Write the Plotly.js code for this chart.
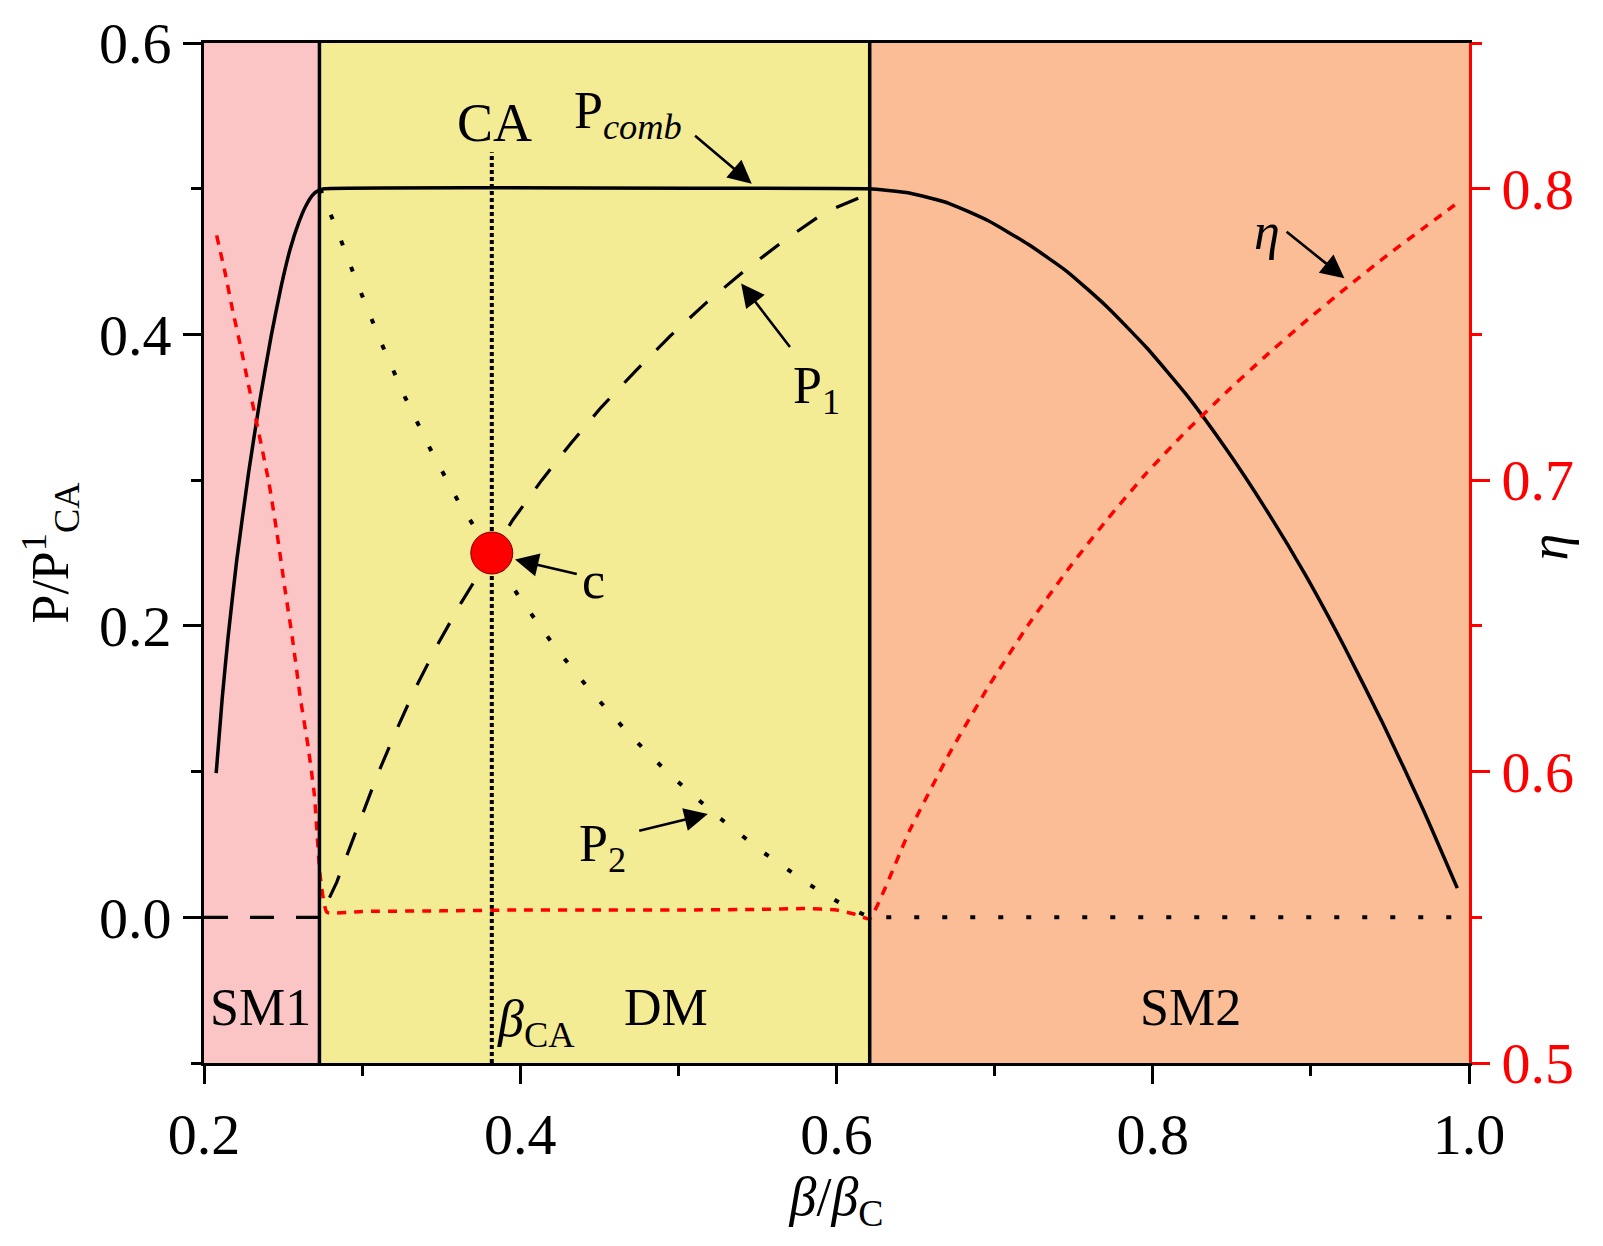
<!DOCTYPE html>
<html>
<head>
<meta charset="utf-8">
<script src="https://cdn.plot.ly/plotly-3.0.1.min.js"></script>
<style>
  html, body { margin: 0; padding: 0; background: #fff; }
  #plot { width: 1603px; height: 1246px; }
</style>
</head>
<body>
<div id="plot"></div>
<script>
"use strict";

// ── Operating regions (β/βC) ──
const regionNames  = ["SM1", "DM", "SM2"];
const regionStart  = [0.2, 0.273, 0.621];
const regionEnd    = [0.273, 0.621, 1.0];
const regionColors = ["#FCC5C5", "#F4EC95", "#FBBD95"];
const regionLabelX = [0.236, 0.492, 0.824];
const regionLabelY = -0.062;

// ── Combined power P_comb / P¹_CA (solid) ──
const combX = [0.2077, 0.2115, 0.2152, 0.2207, 0.2282, 0.2352, 0.2425, 0.2486, 0.2546,
               0.2600, 0.2643, 0.2690, 0.2728, 0.276,
               0.618, 0.621, 0.646, 0.671, 0.696, 0.721, 0.746, 0.771, 0.796, 0.821, 0.846,
               0.871, 0.896, 0.921, 0.946, 0.971, 0.9926];
const combY = [0.099, 0.150, 0.192, 0.245, 0.305, 0.354, 0.399, 0.432, 0.459,
               0.477, 0.488, 0.496, 0.499, 0.500,
               0.500, 0.500, 0.497, 0.490, 0.478, 0.462, 0.443, 0.419, 0.391, 0.359, 0.322,
               0.281, 0.236, 0.186, 0.132, 0.074, 0.020];

// ── P1 (dashed) ──
const p1X = [0.2, 0.2735, 0.2839, 0.2972, 0.3094, 0.3215, 0.3336, 0.3482, 0.3627, 0.382,
             0.3955, 0.4136, 0.4318, 0.4512, 0.473, 0.4949, 0.5179, 0.5421, 0.5676, 0.593, 0.617];
const p1Y = [0.0, 0.0, 0.024, 0.062, 0.097, 0.128, 0.157, 0.188, 0.216, 0.250,
             0.273, 0.300, 0.325, 0.350, 0.375, 0.399, 0.422, 0.444, 0.465, 0.484, 0.495];

// ── P2 (dotted) ──
const p2X = [0.2735, 0.2851, 0.298, 0.3118, 0.3271, 0.3433, 0.361, 0.382, 0.3998, 0.4216,
             0.4447, 0.4694, 0.4954, 0.524, 0.5531, 0.5834, 0.605, 0.621, 0.995];
const p2Y = [0.500, 0.469, 0.432, 0.395, 0.357, 0.321, 0.285, 0.249, 0.219, 0.186,
             0.155, 0.125, 0.097, 0.070, 0.045, 0.022, 0.008, 0.0, 0.0];

// ── Efficiency η (red, right axis) ──
const etaX = [0.208, 0.2134, 0.2182, 0.2231, 0.228, 0.2328, 0.2411, 0.2461, 0.2511, 0.2561,
              0.261, 0.266, 0.2698, 0.2735, 0.2778,
              0.30, 0.35, 0.40, 0.45, 0.50, 0.55, 0.58, 0.60, 0.612, 0.621,
              0.646, 0.671, 0.696, 0.721, 0.746, 0.771, 0.796, 0.821, 0.846,
              0.871, 0.896, 0.921, 0.946, 0.971, 0.991];
const etaY = [0.784, 0.771, 0.758, 0.746, 0.733, 0.721, 0.699, 0.682, 0.663, 0.645,
              0.625, 0.608, 0.592, 0.564, 0.5517,
              0.552, 0.5522, 0.5525, 0.5525, 0.5525, 0.5527, 0.553, 0.5525, 0.551, 0.5495,
              0.5795, 0.6058, 0.6291, 0.6501, 0.6691, 0.6864, 0.7024, 0.7167, 0.7299,
              0.7424, 0.7542, 0.7654, 0.7762, 0.7864, 0.7944];

// ── Characteristic point c and β_CA ──
const betaCA = 0.382;
const caLineY = [-0.1, 0.525];
const pointC = { x: 0.382, y: 0.25 };

// ── Axis ticks ──
const xTickVals = [0.2, 0.4, 0.6, 0.8, 1.0];
const xTickText = ["0.2", "0.4", "0.6", "0.8", "1.0"];
const xMinor    = [0.3, 0.5, 0.7, 0.9];
const yTickVals = [0.0, 0.2, 0.4, 0.6];
const yTickText = ["0.0", "0.2", "0.4", "0.6"];
const yMinor    = [-0.1, 0.1, 0.3, 0.5];
const y2TickVals = [0.5, 0.6, 0.7, 0.8];
const y2TickText = ["0.5", "0.6", "0.7", "0.8"];
const y2Minor    = [0.55, 0.65, 0.75, 0.85];

const FONT = "Liberation Serif, Times New Roman, DejaVu Serif, serif";
const RED = "#FF0000";

const traces = [];

// CA vertical dotted line (behind the red dot)
traces.push({
    type: "scatter", mode: "lines",
    x: [betaCA, betaCA], y: caLineY,
    line: { color: "#000", width: 4, dash: "4px,3px" },
    hoverinfo: "skip", showlegend: false,
});
traces.push({
    type: "scatter", mode: "lines", name: "P2",
    x: p2X, y: p2Y,
    line: { color: "#000", width: 4, dash: "5px,23px" },
    showlegend: false,
});
traces.push({
    type: "scatter", mode: "lines", name: "P1",
    x: p1X, y: p1Y,
    line: { color: "#000", width: 3.2, dash: "24px,22px" },
    showlegend: false,
});
traces.push({
    type: "scatter", mode: "lines", name: "Pcomb",
    x: combX, y: combY,
    line: { color: "#000", width: 3.5, shape: "spline", smoothing: 0.5 },
    showlegend: false,
});
traces.push({
    type: "scatter", mode: "markers", name: "c",
    x: [pointC.x], y: [pointC.y],
    marker: { size: 42, color: RED, line: { color: "#7a0000", width: 1 } },
    showlegend: false,
});
traces.push({
    type: "scatter", mode: "lines", name: "η",
    x: etaX, y: etaY, yaxis: "y2",
    line: { color: RED, width: 3.5, dash: "9px,8px", shape: "spline", smoothing: 0.4 },
    showlegend: false,
});

// ── Region fills + borders ──
const shapes = [];
regionNames.forEach((n, i) => {
    shapes.push({
        type: "rect", layer: "below", xref: "x", yref: "paper",
        x0: regionStart[i], x1: regionEnd[i], y0: 0, y1: 1,
        fillcolor: regionColors[i], line: { width: 0 },
    });
});
[regionStart[1], regionStart[2]].forEach(xv => {
    shapes.push({
        type: "line", layer: "above", xref: "x", yref: "paper",
        x0: xv, x1: xv, y0: 0, y1: 1,
        line: { color: "#000", width: 3.5 },
    });
});

// ── Labels and arrows ──
const TXT = (x, y, text, size) => ({
    x, y, xref: "x", yref: "y", text, showarrow: false,
    xanchor: "center", yanchor: "middle",
    font: { family: FONT, size: size || 52, color: "#000" },
});
const ARROW = (tx, ty, hx, hy) => ({
    x: hx, y: hy, ax: tx, ay: ty, xref: "x", yref: "y", axref: "x", ayref: "y",
    text: "", showarrow: true, arrowhead: 2, arrowsize: 1.8, arrowwidth: 2.6,
    arrowcolor: "#000",
});

const annotations = [];
regionNames.forEach((n, i) => annotations.push(TXT(regionLabelX[i], regionLabelY, n, 52)));
annotations.push(TXT(0.41, -0.072, "<i>β</i><sub>CA</sub>", 52));
annotations.push(TXT(0.3835, 0.545, "CA", 54));
annotations.push(TXT(0.468, 0.551, "P<sub><i>comb</i></sub>", 52));
annotations.push(ARROW(0.5096, 0.5372, 0.5464, 0.5034));
annotations.push(TXT(0.5875, 0.362, "P<sub>1</sub>", 52));
annotations.push(ARROW(0.5713, 0.3904, 0.5397, 0.435));
annotations.push(TXT(0.4464, 0.2312, "c", 52));
annotations.push(ARROW(0.4367, 0.2353, 0.3967, 0.2455));
annotations.push(TXT(0.452, 0.048, "P<sub>2</sub>", 52));
annotations.push(ARROW(0.4743, 0.0592, 0.5186, 0.0709));
annotations.push(TXT(0.8725, 0.4703, "<i>η</i>", 52));
annotations.push(ARROW(0.8837, 0.4713, 0.9212, 0.4386));
// right-axis title, set close to the tick labels as in the original
annotations.push({
    xref: "paper", yref: "paper", x: 1.063, y: 0.506, text: "<i>η</i>",
    showarrow: false, textangle: -90, xanchor: "center", yanchor: "middle",
    font: { family: FONT, size: 54, color: "#000" },
});

const tickBase = {
    ticks: "outside", ticklen: 18, tickwidth: 3, showline: true, linewidth: 3,
    showgrid: false, zeroline: false,
};

const layout = {
    width: 1603, height: 1246,
    margin: { l: 204, r: 134, t: 43, b: 183 },
    paper_bgcolor: "#fff", plot_bgcolor: "#fff",
    font: { family: FONT, color: "#000", size: 52 },
    showlegend: false,
    xaxis: Object.assign({}, tickBase, {
        range: [0.2, 1.0], tickmode: "array", tickvals: xTickVals, ticktext: xTickText,
        tickcolor: "#000", linecolor: "#000", mirror: true,
        tickfont: { family: FONT, size: 58, color: "#000" },
        minor: { tickmode: "array", tickvals: xMinor, ticks: "outside", ticklen: 10,
                 tickwidth: 3, tickcolor: "#000", showgrid: false },
        title: { text: "<i>β</i>/<i>β</i><sub>C</sub>", standoff: 10,
                 font: { family: FONT, size: 54, color: "#000" } },
    }),
    yaxis: Object.assign({}, tickBase, {
        range: [-0.1, 0.6], tickmode: "array", tickvals: yTickVals, ticktext: yTickText,
        tickcolor: "#000", linecolor: "#000",
        tickfont: { family: FONT, size: 58, color: "#000" },
        minor: { tickmode: "array", tickvals: yMinor, ticks: "outside", ticklen: 10,
                 tickwidth: 3, tickcolor: "#000", showgrid: false },
        title: { text: "P/P<sup>1</sup><sub>CA</sub>", standoff: 14,
                 font: { family: FONT, size: 52, color: "#000" } },
    }),
    yaxis2: Object.assign({}, tickBase, {
        overlaying: "y", side: "right",
        range: [0.5, 0.85], tickmode: "array", tickvals: y2TickVals, ticktext: y2TickText,
        tickcolor: RED, linecolor: RED,
        tickfont: { family: FONT, size: 58, color: RED },
        minor: { tickmode: "array", tickvals: y2Minor, ticks: "outside", ticklen: 10,
                 tickwidth: 3, tickcolor: RED, showgrid: false },
    }),
    shapes, annotations,
};

Plotly.newPlot("plot", traces, layout, { displayModeBar: false, responsive: false });
</script>
</body>
</html>
